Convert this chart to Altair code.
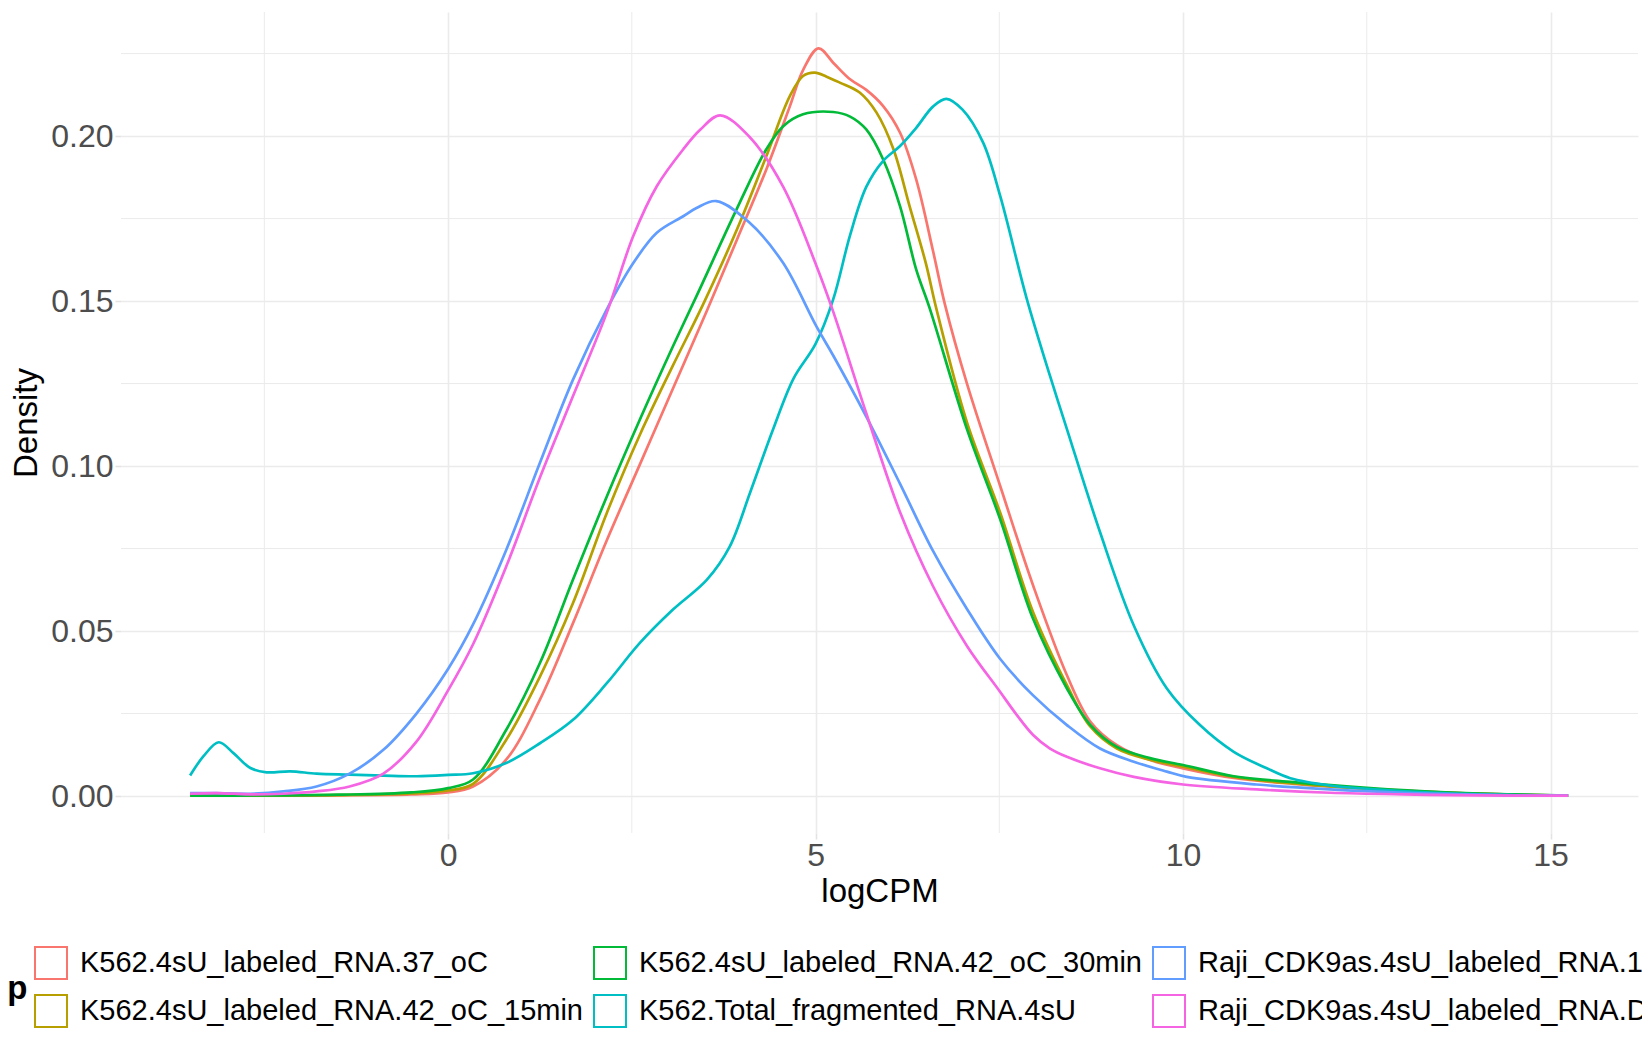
import pandas as pd
import altair as alt

FONT = "Liberation Sans"

# sample names (legend order, row by row as the legend shows them)
names = [
    "K562.4sU_labeled_RNA.37_oC",
    "K562.4sU_labeled_RNA.42_oC_30min",
    "Raji_CDK9as.4sU_labeled_RNA.1_NM_PP1",
    "K562.4sU_labeled_RNA.42_oC_15min",
    "K562.Total_fragmented_RNA.4sU",
    "Raji_CDK9as.4sU_labeled_RNA.DMSO",
]
colors = ["#F8766D", "#00BA38", "#619CFF", "#B79F00", "#00BFC4", "#F564E3"]

# density curves (logCPM, density)
x_37 = [-3.51, -2.5, -1.5, -0.5, 0, 0.34, 0.79, 1.25, 1.7, 2.16, 2.61, 3.06, 3.52, 3.93, 4.33, 4.65, 4.83,
        5.04, 5.25, 5.47, 5.69, 5.92, 6.15, 6.37, 6.6, 6.76, 7.06, 7.51, 7.96, 8.42, 8.74, 9.1, 9.55, 10.0,
        10.69, 11.5, 12.5, 13.5, 14.5, 15.24]
y_37 = [0.0001, 0.0001, 0.0002, 0.0005, 0.0011, 0.0029, 0.011, 0.0292, 0.0524, 0.0775, 0.1005, 0.1235, 0.147,
        0.1686, 0.1899, 0.209, 0.220, 0.2266, 0.222, 0.2172, 0.214, 0.2091, 0.201, 0.1868, 0.165, 0.149,
        0.125, 0.0941, 0.0638, 0.0366, 0.0225, 0.0154, 0.0109, 0.0084, 0.0055, 0.0037, 0.0022, 0.0011,
        0.0004, 0.0001]

x_15 = [-3.51, -2.5, -1.5, -0.5, 0, 0.34, 0.79, 1.25, 1.7, 2.16, 2.61, 3.06, 3.47, 3.93, 4.33, 4.65, 4.83,
        4.99, 5.15, 5.33, 5.6, 5.83, 6.06, 6.28, 6.5, 6.64, 7.06, 7.51, 7.96, 8.42, 8.74, 9.1, 9.55, 10.0,
        10.69, 11.5, 12.5, 13.5, 14.5, 15.24]
y_15 = [0.0001, 0.0001, 0.0003, 0.0008, 0.0017, 0.0037, 0.017, 0.0362, 0.0585, 0.0858, 0.1095, 0.1305, 0.149,
        0.1717, 0.1939, 0.2121, 0.2182, 0.2192, 0.218, 0.2162, 0.2132, 0.2071, 0.196, 0.1787, 0.1615, 0.148,
        0.1132, 0.086, 0.0557, 0.0336, 0.021, 0.0144, 0.011, 0.0089, 0.0058, 0.0038, 0.0022, 0.0011,
        0.0004, 0.0001]

x_30 = [-3.51, -2.5, -1.5, -0.5, 0, 0.34, 0.79, 1.25, 1.7, 2.16, 2.61, 3.06, 3.38, 3.93, 4.33, 4.56, 4.83,
        5.24, 5.47, 5.69, 5.92, 6.15, 6.37, 6.55, 7.06, 7.51, 7.96, 8.42, 8.74, 9.1, 9.55, 10.0, 10.69,
        11.5, 12.5, 13.5, 14.5, 15.24]
y_30 = [0.0001, 0.0002, 0.0004, 0.0011, 0.0024, 0.005, 0.02, 0.0403, 0.0656, 0.0908, 0.1141, 0.1363, 0.1515,
        0.178, 0.196, 0.203, 0.2066, 0.2073, 0.2059, 0.202, 0.1929, 0.1787, 0.1595, 0.148, 0.1112, 0.084,
        0.0537, 0.0326, 0.0215, 0.0149, 0.0115, 0.0094, 0.006, 0.0042, 0.0025, 0.0012, 0.0005, 0.0001]

x_tot = [-3.51, -3.33, -3.12, -2.92, -2.69, -2.47, -2.15, -1.79, -1.34, -0.88, -0.43, 0, 0.34, 0.79, 1.25,
         1.7, 2.16, 2.61, 3.06, 3.52, 3.83, 4.11, 4.42, 4.7, 5.0, 5.24, 5.47, 5.69, 5.92, 6.15, 6.37, 6.6,
         6.78, 7.0, 7.28, 7.51, 7.87, 8.19, 8.42, 8.87, 9.33, 9.78, 10.23, 10.69, 11.14, 11.46, 12.0, 12.5,
         13.5, 14.5, 15.24]
y_tot = [0.0062, 0.012, 0.0163, 0.013, 0.0085, 0.0072, 0.0075, 0.0068, 0.0065, 0.0062, 0.006, 0.0064, 0.0069,
         0.01, 0.016, 0.0231, 0.0342, 0.0464, 0.0565, 0.0655, 0.0755, 0.092, 0.111, 0.1265, 0.137, 0.1505,
         0.17, 0.1846, 0.1925, 0.197, 0.2025, 0.209, 0.2113, 0.208, 0.198, 0.182, 0.151, 0.1273, 0.1112, 0.08,
         0.0517, 0.0326, 0.0215, 0.0134, 0.0084, 0.0054, 0.0032, 0.0022, 0.0009, 0.0003, 0.0001]

x_raji1 = [-3.51, -3.15, -2.69, -2.24, -1.79, -1.34, -0.88, -0.43, 0, 0.34, 0.79, 1.25, 1.7, 2.16, 2.52, 2.84,
           3.2, 3.38, 3.65, 4.1, 4.56, 5.01, 5.24, 5.69, 6.15, 6.6, 7.06, 7.51, 7.96, 8.42, 8.87, 9.33,
           9.78, 10.05, 11.0, 12.0, 13.0, 14.0, 15.24]
y_raji1 = [0.0009, 0.0009, 0.0007, 0.0014, 0.0029, 0.0068, 0.014, 0.025, 0.0385, 0.052, 0.0745, 0.101,
           0.1262, 0.1475, 0.1615, 0.1707, 0.1757, 0.1782, 0.1803, 0.1738, 0.1615, 0.1424, 0.1335, 0.115,
           0.0946, 0.0742, 0.0567, 0.0416, 0.0305, 0.0215, 0.0144, 0.0104, 0.0074, 0.0058, 0.0035,
           0.002, 0.001, 0.0004, 0.0001]

x_dmso = [-3.51, -3.15, -2.69, -2.24, -1.79, -1.34, -0.88, -0.43, 0, 0.34, 0.79, 1.25, 1.7, 2.16, 2.52, 2.84,
          3.2, 3.43, 3.7, 4.1, 4.56, 5.01, 5.24, 5.69, 6.15, 6.6, 7.06, 7.51, 7.74, 7.96, 8.19,
          8.42, 8.87, 9.33, 10.0, 11.0, 12.0, 13.0, 14.0, 15.24]
y_dmso = [0.0007, 0.0009, 0.0005, 0.0007, 0.0014, 0.0029, 0.0068, 0.0165, 0.032, 0.046, 0.0695, 0.0965, 0.1212,
          0.1465, 0.1697, 0.1848, 0.196, 0.2019, 0.2063, 0.1998, 0.1846, 0.1608, 0.1468, 0.116, 0.086, 0.0635,
          0.0455, 0.0316, 0.0245, 0.0185, 0.0144, 0.0119, 0.0084, 0.0058, 0.0035, 0.002,
          0.001, 0.0005, 0.0002, 0.0001]

# axis ticks / grid
x_major = [0, 5, 10, 15]
x_minor = [-2.5, 2.5, 7.5, 12.5]
y_major = [0.0, 0.05, 0.10, 0.15, 0.20]
y_minor = [0.025, 0.075, 0.125, 0.175, 0.225]

# draw order follows the factor order of the original plot
series = [
    (names[0], x_37, y_37),
    (names[3], x_15, y_15),
    (names[1], x_30, y_30),
    (names[4], x_tot, y_tot),
    (names[2], x_raji1, y_raji1),
    (names[5], x_dmso, y_dmso),
]
frames = []
for i, (nm, xs, ys) in enumerate(series):
    frames.append(pd.DataFrame({"sample": nm, "logCPM": xs, "density": ys, "ord": i}))
df = pd.concat(frames, ignore_index=True)

W, H = 1517, 821
xsc = alt.Scale(domain=[-4.45, 16.19], nice=False, zero=False)
ysc = alt.Scale(domain=[-0.0112, 0.2376], nice=False, zero=False)
GRID = "#EBEBEB"

x_axis = alt.Axis(
    values=x_major, title="logCPM", grid=True, gridColor=GRID, gridWidth=1.6,
    domain=False, tickSize=6, tickColor="#E3E3E3", tickWidth=1.6,
    labelFont=FONT, labelFontSize=32, labelColor="#4D4D4D", labelPadding=1, labelFlush=False,
    titleFont=FONT, titleFontSize=33, titleFontWeight="normal", titleColor="black",
    titleY=68, titleBaseline="alphabetic")
y_axis = alt.Axis(
    values=y_major, format=".2f", title="Density", grid=True, gridColor=GRID, gridWidth=1.6,
    domain=False, tickSize=6, tickColor="#E3E3E3", tickWidth=1.6,
    labelFont=FONT, labelFontSize=32, labelColor="#4D4D4D", labelPadding=2,
    titleFont=FONT, titleFontSize=33, titleFontWeight="normal", titleColor="black",
    titleAngle=270, titleX=-85, titleY=H / 2, titleAlign="center", titleBaseline="alphabetic")

# minor grid lines
vgrid = alt.Chart(pd.DataFrame({"v": x_minor})).mark_rule(color=GRID, strokeWidth=1).encode(
    x=alt.X("v:Q", scale=xsc, axis=x_axis, title="logCPM"), y=alt.value(0), y2=alt.value(H))
hgrid = alt.Chart(pd.DataFrame({"v": y_minor})).mark_rule(color=GRID, strokeWidth=1).encode(
    y=alt.Y("v:Q", scale=ysc, axis=y_axis, title="Density"), x=alt.value(0), x2=alt.value(W))

lines = alt.Chart(df).mark_line(strokeWidth=2.7, interpolate="catmull-rom").encode(
    x=alt.X("logCPM:Q", scale=xsc, axis=x_axis),
    y=alt.Y("density:Q", scale=ysc, axis=y_axis),
    color=alt.Color("sample:N", scale=alt.Scale(domain=names, range=colors), legend=alt.Legend(
        orient="none", legendX=-187, legendY=934, direction="horizontal", columns=3,
        title="group", titleOrient="left", titleFont=FONT, titleFontSize=33, titleFontWeight="bold",
        titleColor="black", titlePadding=6, titleAnchor="middle", titleBaseline="middle",
        labelFont=FONT, labelFontSize=29, labelColor="black", labelOffset=12, labelLimit=1000,
        symbolType="square", symbolSize=1024, symbolStrokeWidth=2, symbolFillColor="transparent",
        columnPadding=7, rowPadding=8, gridAlign="each")),
    detail="ord:N",
)

chart = alt.layer(vgrid, hgrid, lines).properties(
    width=W, height=H,
    autosize=alt.AutoSizeParams(type="none"),
    padding={"left": 113, "top": 4, "right": 4, "bottom": 207},
    background="white",
).configure_view(stroke=None)

chart.save("out.html", embed_options={"renderer": "svg", "actions": False})
